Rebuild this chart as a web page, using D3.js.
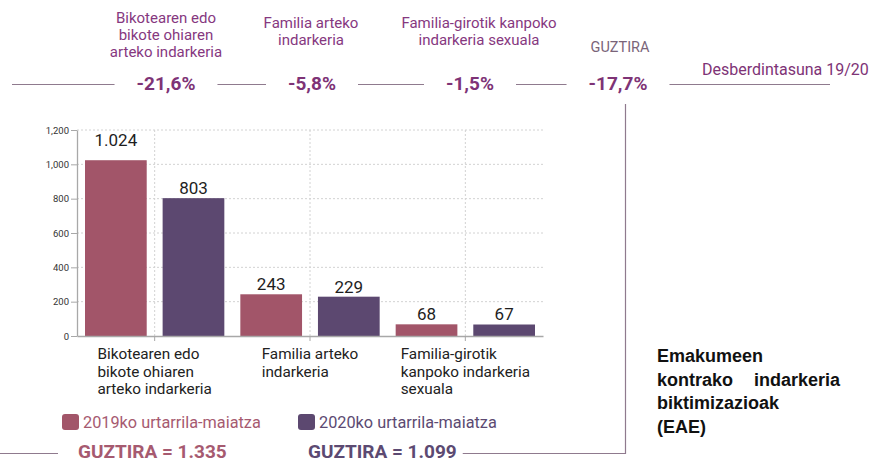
<!DOCTYPE html>
<html>
<head>
<meta charset="utf-8">
<script src="https://cdn.jsdelivr.net/npm/d3@7"></script>
<style>
  body { margin: 0; background: #fff; }
  svg { display: block; font-family: Roboto, "Noto Sans", sans-serif; }
</style>
</head>
<body>
<svg id="chart"></svg>
<script>
// data
const categoryLabels = [
  ["Bikotearen edo", "bikote ohiaren", "arteko indarkeria"],
  ["Familia arteko", "indarkeria"],
  ["Familia-girotik", "kanpoko indarkeria", "sexuala"]
];
const headerLabels = [
  ["Bikotearen edo", "bikote ohiaren", "arteko indarkeria"],
  ["Familia arteko", "indarkeria"],
  ["Familia-girotik kanpoko", "indarkeria sexuala"],
  ["GUZTIRA"]
];
const seriesNames = ["2019ko urtarrila-maiatza", "2020ko urtarrila-maiatza"];
const values2019 = [1024, 243, 68];
const values2020 = [803, 229, 67];
const yTicks = [0, 200, 400, 600, 800, 1000, 1200];
const diffTitle = "Desberdintasuna 19/20";
const sideTitle = ["Emakumeen", "kontrako", "indarkeria", "biktimizazioak", "(EAE)"];

let width = 876;
let height = 463;
let plot = { left: 77, right: 543, top: 130, bottom: 336 };
let colors = ["#a25569", "#5c4870"];
let textColors = ["#a65a70", "#5c4a72"];
let purple = "#7e3376";
let lineColor = "#8f7a8e";

let svg = d3.select("#chart")
  .attr("width", width)
  .attr("height", height);

let eu = d3.formatLocale({ decimal: ",", thousands: ".", grouping: [3], currency: ["", "€"], minus: "-" });
let fmtNum = eu.format(",");
let fmtPct = v => eu.format(".1f")(v) + "%";

let idx = d3.range(categoryLabels.length);
let total2019 = d3.sum(values2019);
let total2020 = d3.sum(values2020);
let diffs = idx.map(i => (values2020[i] - values2019[i]) / values2019[i] * 100);
diffs.push((total2020 - total2019) / total2019 * 100);

// scales
let x0 = d3.scaleBand()
  .domain(idx)
  .range([plot.left, plot.right]);

let x1 = d3.scaleBand()
  .domain([0, 1])
  .range([8, x0.bandwidth() - 8])
  .paddingInner(0.205);

let y = d3.scaleLinear()
  .domain([0, 1200])
  .range([plot.bottom, plot.top]);

// grid
let grid = svg.append("g")
  .attr("stroke", "#d2d2d2")
  .attr("stroke-dasharray", "2,2");

grid.selectAll(".hgrid")
  .data(yTicks.filter(d => d > 0))
  .enter()
  .append("line")
    .attr("x1", plot.left)
    .attr("x2", plot.right)
    .attr("y1", d => y(d))
    .attr("y2", d => y(d));

grid.selectAll(".vgrid")
  .data(idx)
  .enter()
  .append("line")
    .attr("x1", d => x0(d) + x0.bandwidth() / 2)
    .attr("x2", d => x0(d) + x0.bandwidth() / 2)
    .attr("y1", plot.top)
    .attr("y2", plot.bottom);

// bars
let groups = svg.append("g")
  .selectAll("g")
  .data(idx)
  .enter()
  .append("g")
    .attr("transform", d => `translate(${x0(d)},0)`);

let barData = i => [values2019[i], values2020[i]].map((v, s) => ({ s: s, value: v }));

groups.selectAll("rect")
  .data(barData)
  .enter()
  .append("rect")
    .attr("x", d => x1(d.s))
    .attr("width", x1.bandwidth())
    .attr("y", d => y(d.value))
    .attr("height", d => y(0) - y(d.value))
    .attr("fill", d => colors[d.s]);

// the tallest label sits a bit higher in the original
let topValue = d3.max(values2019.concat(values2020));
groups.selectAll(".val")
  .data(barData)
  .enter()
  .append("text")
    .attr("x", d => x1(d.s) + x1.bandwidth() / 2)
    .attr("y", d => y(d.value) - (d.value === topValue ? 14 : 4))
    .attr("text-anchor", "middle")
    .attr("font-size", 17)
    .attr("fill", "#1e1e1e")
    .text(d => fmtNum(d.value));

// axes
let yAxis = svg.append("g")
  .attr("transform", `translate(${plot.left},0)`)
  .call(d3.axisLeft(y).tickValues(yTicks).tickFormat(d3.format(",")).tickSize(6).tickSizeOuter(0).tickPadding(2));
yAxis.select(".domain").attr("stroke", "#a8a8a8").attr("stroke-width", 1.3);
yAxis.selectAll(".tick line").attr("stroke", "#a8a8a8");
yAxis.selectAll(".tick text").attr("font-size", 9.5).attr("fill", "#333").attr("font-family", "Roboto");

let xAxis = svg.append("g")
  .attr("transform", `translate(0,${plot.bottom})`)
  .call(d3.axisBottom(x0).tickSize(5).tickSizeOuter(0).tickFormat(""));
xAxis.select(".domain").attr("stroke", "#a8a8a8").attr("stroke-width", 1.3);
xAxis.selectAll(".tick line").attr("stroke", "#a8a8a8");

// category labels: lines left aligned, block centred under the band
idx.forEach(i => {
  let g = svg.append("g");
  let t = g.selectAll("text")
    .data(categoryLabels[i])
    .enter()
    .append("text")
      .attr("x", 0)
      .attr("y", (d, k) => 359 + k * 17.5)
      .attr("font-size", 15.3)
      .attr("fill", "#222")
      .text(d => d);
  let w = d3.max(t.nodes(), n => n.getComputedTextLength());
  g.attr("transform", `translate(${x0(i) + x0.bandwidth() / 2 - w / 2},0)`);
});

// header row with differences
let headerX = [166, 311, 479, 620];
let pctX = [166, 312, 470, 618];
let headerBase = [23, 28, 28, 52];

headerLabels.forEach((lines, i) => {
  svg.append("g").selectAll("text")
    .data(lines)
    .enter()
    .append("text")
      .attr("x", headerX[i])
      .attr("y", (d, k) => headerBase[i] + k * 17)
      .attr("text-anchor", "middle")
      .attr("font-size", i === 3 ? 14.5 : 15)
      .attr("fill", i === 3 ? "#7a6479" : "#86387f")
      .text(d => d);
});

let pctText = svg.append("g").selectAll("text")
  .data(diffs)
  .enter()
  .append("text")
    .attr("x", (d, i) => pctX[i])
    .attr("y", 90)
    .attr("text-anchor", "middle")
    .attr("font-size", 19)
    .attr("font-weight", "bold")
    .attr("fill", purple)
    .text(d => fmtPct(d));

// connecting lines between the percentages
let boxes = pctText.nodes().map(n => n.getBBox());
let gap = 22;
let segs = [[12, boxes[0].x - gap]];
for (let i = 0; i < boxes.length - 1; i++) {
  segs.push([boxes[i].x + boxes[i].width + gap, boxes[i + 1].x - gap]);
}
segs.push([boxes[boxes.length - 1].x + boxes[boxes.length - 1].width + gap, 830]);

svg.append("g").selectAll("line")
  .data(segs)
  .enter()
  .append("line")
    .attr("x1", d => d[0])
    .attr("x2", d => d[1])
    .attr("y1", 84.5)
    .attr("y2", 84.5)
    .attr("stroke", lineColor)
    .attr("stroke-width", 1.2);

svg.append("text")
  .attr("x", 702)
  .attr("y", 75)
  .attr("font-size", 16)
  .attr("fill", purple)
  .text(diffTitle);

// legend
let legendX = [62, 298];
let legend = svg.append("g").selectAll("g")
  .data(seriesNames)
  .enter()
  .append("g")
    .attr("transform", (d, i) => `translate(${legendX[i]},414)`);

legend.append("rect")
  .attr("width", 17)
  .attr("height", 16)
  .attr("rx", 3)
  .attr("fill", (d, i) => colors[i]);

legend.append("text")
  .attr("x", 21)
  .attr("y", 13.5)
  .attr("font-size", 16.3)
  .attr("fill", (d, i) => textColors[i])
  .text(d => d);

// totals
let totalX = [78, 308];
let totals = svg.append("g").selectAll("text")
  .data([total2019, total2020])
  .enter()
  .append("text")
    .attr("x", (d, i) => totalX[i])
    .attr("y", 458)
    .attr("font-size", 19)
    .attr("font-weight", "bold")
    .attr("fill", (d, i) => textColors[i])
    .text(d => "GUZTIRA = " + fmtNum(d));

let tb = totals.nodes()[1].getBBox();
let bottomY = 453.5;
svg.append("line")
  .attr("x1", 0).attr("x2", 58)
  .attr("y1", bottomY).attr("y2", bottomY)
  .attr("stroke", lineColor).attr("stroke-width", 1.2);

svg.append("path")
  .attr("d", `M${tb.x + tb.width + 6},${bottomY}H625.5V104`)
  .attr("fill", "none")
  .attr("stroke", lineColor)
  .attr("stroke-width", 1.2);

// side title
let side = svg.append("g")
  .attr("font-family", "'Liberation Sans', Arial, sans-serif")
  .attr("font-weight", "bold")
  .attr("font-size", 18)
  .attr("fill", "#111");

side.append("text").attr("x", 657).attr("y", 362).text(sideTitle[0]);
side.append("text").attr("x", 657).attr("y", 385.5).text(sideTitle[1]);
side.append("text").attr("x", 840).attr("y", 385.5).attr("text-anchor", "end").text(sideTitle[2]);
side.append("text").attr("x", 657).attr("y", 409).text(sideTitle[3]);
side.append("text").attr("x", 657).attr("y", 432.5).text(sideTitle[4]);
</script>
</body>
</html>
